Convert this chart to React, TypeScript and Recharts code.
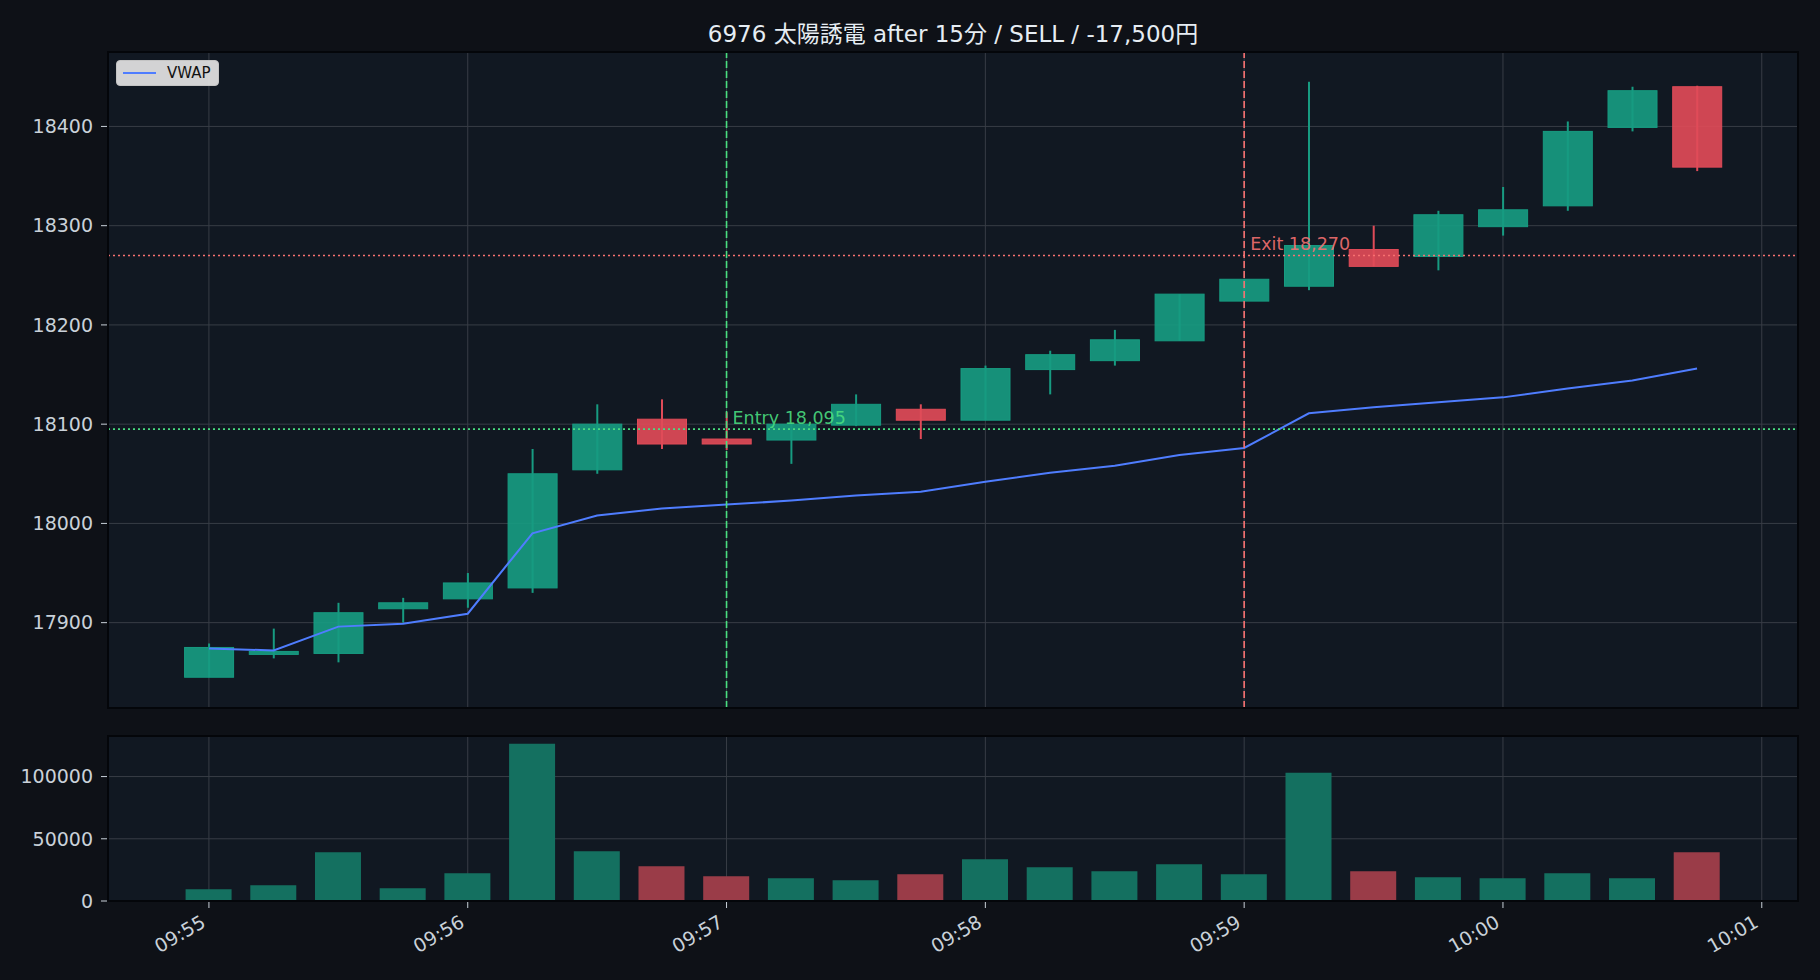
import {
  ComposedChart,
  BarChart,
  Bar,
  Line,
  Cell,
  XAxis,
  YAxis,
  CartesianGrid,
  ReferenceLine,
  ReferenceDot,
  Legend,
} from "recharts";

// 15-second candles, 09:55:00 .. 10:00:45
const times = [
  "09:55:00", "09:55:15", "09:55:30", "09:55:45",
  "09:56:00", "09:56:15", "09:56:30", "09:56:45",
  "09:57:00", "09:57:15", "09:57:30", "09:57:45",
  "09:58:00", "09:58:15", "09:58:30", "09:58:45",
  "09:59:00", "09:59:15", "09:59:30", "09:59:45",
  "10:00:00", "10:00:15", "10:00:30", "10:00:45",
];
const opens = [
  17845, 17868, 17869, 17914, 17924, 17935, 18054, 18105,
  18085, 18084, 18099, 18115, 18104, 18155, 18164, 18184,
  18224, 18239, 18276, 18269, 18299, 18320, 18399, 18440,
];
const highs = [
  17879, 17894, 17920, 17925, 17950, 18075, 18120, 18125,
  18112, 18101, 18130, 18120, 18159, 18174, 18195, 18231,
  18246, 18445, 18300, 18315, 18339, 18405, 18440, 18441,
];
const lows = [
  17845, 17864, 17860, 17900, 17915, 17930, 18050, 18075,
  18074, 18060, 18098, 18085, 18104, 18130, 18159, 18184,
  18224, 18235, 18259, 18255, 18290, 18315, 18395, 18355,
];
const closes = [
  17875, 17871, 17910, 17920, 17940, 18050, 18100, 18080,
  18080, 18100, 18120, 18104, 18156, 18170, 18185, 18231,
  18246, 18280, 18259, 18311, 18316, 18395, 18436, 18359,
];
const vwaps = [
  17874, 17872, 17896, 17899, 17909, 17990, 18008, 18015,
  18019, 18023, 18028, 18032, 18042, 18051, 18058, 18069,
  18076, 18111, 18117, 18122, 18127, 18136, 18144, 18156,
];
const volumes = [
  9400, 12600, 39200, 10200, 22300, 126300, 40000, 28000,
  19900, 18300, 16700, 21500, 33600, 27200, 23900, 29600,
  21500, 103000, 23900, 19100, 18300, 22300, 18300, 39200,
];

const xTickLabels = ["09:55", "09:56", "09:57", "09:58", "09:59", "10:00", "10:01"];
const priceTicks = [17900, 18000, 18100, 18200, 18300, 18400];
const volumeTicks = [0, 50000, 100000];

const entryTime = "09:57";
const entryPrice = 18095;
const exitTime = "09:59";
const exitPrice = 18270;

const TITLE = "6976 太陽誘電 after 15分 / SELL / -17,500円";

const FIG_BG = "#0e1117";
const AX_BG = "#111822";
const GRID = "#383d46";
const TEXT = "#c9d1d9";
const UP = "#179b81";
const DOWN = "#e04b58";
const VOL_UP = "#147060";
const VOL_DOWN = "#9a3c48";
const VWAP_COLOR = "#4f7dff";
const ENTRY_COLOR = "#4ade80";
const EXIT_COLOR = "#f87171";
const FONT = "'DejaVu Sans', 'Noto Sans CJK JP', sans-serif";
const TICK_SIZE = 19;

// seconds since 09:55:00
const toSec = (t: string) => {
  const [h, m, s = "0"] = t.split(":");
  return (+h * 3600 + +m * 60 + +s) - (9 * 3600 + 55 * 60);
};

const rows = times.map((t, i) => ({
  t: toSec(t),
  open: opens[i],
  high: highs[i],
  low: lows[i],
  close: closes[i],
  vwap: vwaps[i],
  volume: volumes[i],
  up: closes[i] >= opens[i],
}));

const xTicks = xTickLabels.map(toSec);
const xLabel = (v: number) => xTickLabels[xTicks.indexOf(v)] ?? "";
const X_DOMAIN: [number, number] = [-23.4, 368.4];

function Candle(props: any) {
  const { x, y, width, height, payload } = props;
  const { open, close, high, low } = payload;
  const color = close >= open ? UP : DOWN;
  const k = high > low ? height / (high - low) : 0;
  const top = y + (high - Math.max(open, close)) * k;
  const bot = y + (high - Math.min(open, close)) * k;
  const cx = x + width / 2;
  return (
    <g>
      <line x1={cx} x2={cx} y1={y} y2={y + height} stroke={color} strokeWidth={2} />
      <rect
        x={x}
        y={top}
        width={width}
        height={Math.max(bot - top, 1)}
        fill={color}
        fillOpacity={0.92}
        stroke={color}
        strokeWidth={1}
      />
    </g>
  );
}

function TimeTick({ x, y, payload }: any) {
  const ax = x - 2;
  const ay = y + 16;
  return (
    <text
      x={ax}
      y={ay}
      transform={`rotate(-30, ${ax}, ${ay})`}
      textAnchor="end"
      fill={TEXT}
      fontSize={TICK_SIZE}
      fontFamily={FONT}
    >
      {xLabel(payload.value)}
    </text>
  );
}

const NoTick = () => <g />;

function TradeLabel(text: string, color: string) {
  return (props: any) => (
    <text
      x={props.cx + 6}
      y={props.cy - 5}
      fill={color}
      fillOpacity={0.9}
      fontSize={17.5}
      fontFamily={FONT}
    >
      {text}
    </text>
  );
}

function VwapLegend() {
  return (
    <div
      style={{
        display: "flex",
        alignItems: "center",
        gap: 11,
        background: "rgba(228,228,228,0.92)",
        border: "1px solid #c4c4c4",
        borderRadius: 4,
        padding: "3px 7px 3px 6px",
        fontFamily: FONT,
        fontSize: 15,
        color: "#111",
      }}
    >
      <svg width={33} height={4}>
        <line x1={0} x2={33} y1={2} y2={2} stroke={VWAP_COLOR} strokeWidth={2} />
      </svg>
      <span>VWAP</span>
    </div>
  );
}

const fmtPrice = (v: number) => v.toLocaleString("en-US");

export default function App() {
  return (
    <div
      style={{
        position: "absolute",
        top: 0,
        left: 0,
        width: 1820,
        height: 980,
        background: FIG_BG,
        fontFamily: FONT,
        overflow: "hidden",
      }}
    >
      <div
        style={{
          position: "absolute",
          top: 20,
          left: 108,
          width: 1690,
          textAlign: "center",
          color: "#e6edf3",
          fontSize: 23,
          lineHeight: "28px",
        }}
      >
        {TITLE}
      </div>

      {/* axes faces */}
      <div style={{ position: "absolute", left: 108, top: 52, width: 1690, height: 656, background: AX_BG }} />
      <div style={{ position: "absolute", left: 108, top: 736, width: 1690, height: 165, background: AX_BG }} />

      <div style={{ position: "absolute", top: 0, left: 0 }}>
        <ComposedChart
          width={1820}
          height={730}
          data={rows}
          margin={{ top: 52, right: 22, bottom: 22, left: 0 }}
        >
          <CartesianGrid stroke={GRID} strokeWidth={1} />
          <XAxis
            dataKey="t"
            type="number"
            domain={X_DOMAIN}
            ticks={xTicks}
            allowDataOverflow
            height={0}
            tick={<NoTick />}
            tickSize={7}
            tickLine={{ stroke: TEXT }}
            axisLine={false}
          />
          <YAxis
            type="number"
            domain={[17814, 18475]}
            ticks={priceTicks}
            allowDataOverflow
            width={108}
            tickSize={7}
            tickMargin={8}
            tickLine={{ stroke: TEXT }}
            axisLine={false}
            tick={{ fill: TEXT, fontSize: TICK_SIZE, fontFamily: FONT }}
          />
          <Legend
            layout="horizontal"
            verticalAlign="middle"
            align="center"
            wrapperStyle={{ top: 60, left: 116, width: "auto", height: "auto" }}
            content={<VwapLegend />}
          />
          <Bar
            dataKey={(d: any) => [d.low, d.high]}
            barSize={49}
            shape={<Candle />}
            isAnimationActive={false}
            legendType="none"
          />
          <Line
            dataKey="vwap"
            name="VWAP"
            type="linear"
            stroke={VWAP_COLOR}
            strokeWidth={2}
            dot={false}
            isAnimationActive={false}
          />
          <ReferenceLine y={entryPrice} stroke={ENTRY_COLOR} strokeWidth={1.6} strokeDasharray="2 3" />
          <ReferenceLine y={exitPrice} stroke={EXIT_COLOR} strokeWidth={1.6} strokeDasharray="2 3" />
          <ReferenceLine x={toSec(entryTime)} stroke={ENTRY_COLOR} strokeWidth={1.6} strokeDasharray="7 3" />
          <ReferenceLine x={toSec(exitTime)} stroke={EXIT_COLOR} strokeWidth={1.6} strokeDasharray="7 3" />
          <ReferenceDot
            x={toSec(entryTime)}
            y={entryPrice}
            r={0}
            shape={TradeLabel(`Entry ${fmtPrice(entryPrice)}`, ENTRY_COLOR)}
          />
          <ReferenceDot
            x={toSec(exitTime)}
            y={exitPrice}
            r={0}
            shape={TradeLabel(`Exit ${fmtPrice(exitPrice)}`, EXIT_COLOR)}
          />
        </ComposedChart>
      </div>

      <div style={{ position: "absolute", top: 730, left: 0 }}>
        <BarChart
          width={1820}
          height={250}
          data={rows}
          margin={{ top: 6, right: 22, bottom: 0, left: 0 }}
        >
          <CartesianGrid stroke={GRID} strokeWidth={1} />
          <XAxis
            dataKey="t"
            type="number"
            domain={X_DOMAIN}
            ticks={xTicks}
            allowDataOverflow
            height={79}
            tickSize={7}
            tickLine={{ stroke: TEXT }}
            axisLine={false}
            tick={<TimeTick />}
          />
          <YAxis
            type="number"
            domain={[0, 132600]}
            ticks={volumeTicks}
            allowDataOverflow
            width={108}
            tickSize={7}
            tickMargin={8}
            tickLine={{ stroke: TEXT }}
            axisLine={false}
            tick={{ fill: TEXT, fontSize: TICK_SIZE, fontFamily: FONT }}
          />
          <Bar dataKey="volume" barSize={46} isAnimationActive={false}>
            {rows.map((r, i) => (
              <Cell key={i} fill={r.up ? VOL_UP : VOL_DOWN} />
            ))}
          </Bar>
        </BarChart>
      </div>

      {/* spines */}
      <div
        style={{
          position: "absolute",
          left: 107,
          top: 51,
          width: 1692,
          height: 658,
          border: "2px solid #04060a",
          boxSizing: "border-box",
          pointerEvents: "none",
        }}
      />
      <div
        style={{
          position: "absolute",
          left: 107,
          top: 735,
          width: 1692,
          height: 167,
          border: "2px solid #04060a",
          boxSizing: "border-box",
          pointerEvents: "none",
        }}
      />
    </div>
  );
}
